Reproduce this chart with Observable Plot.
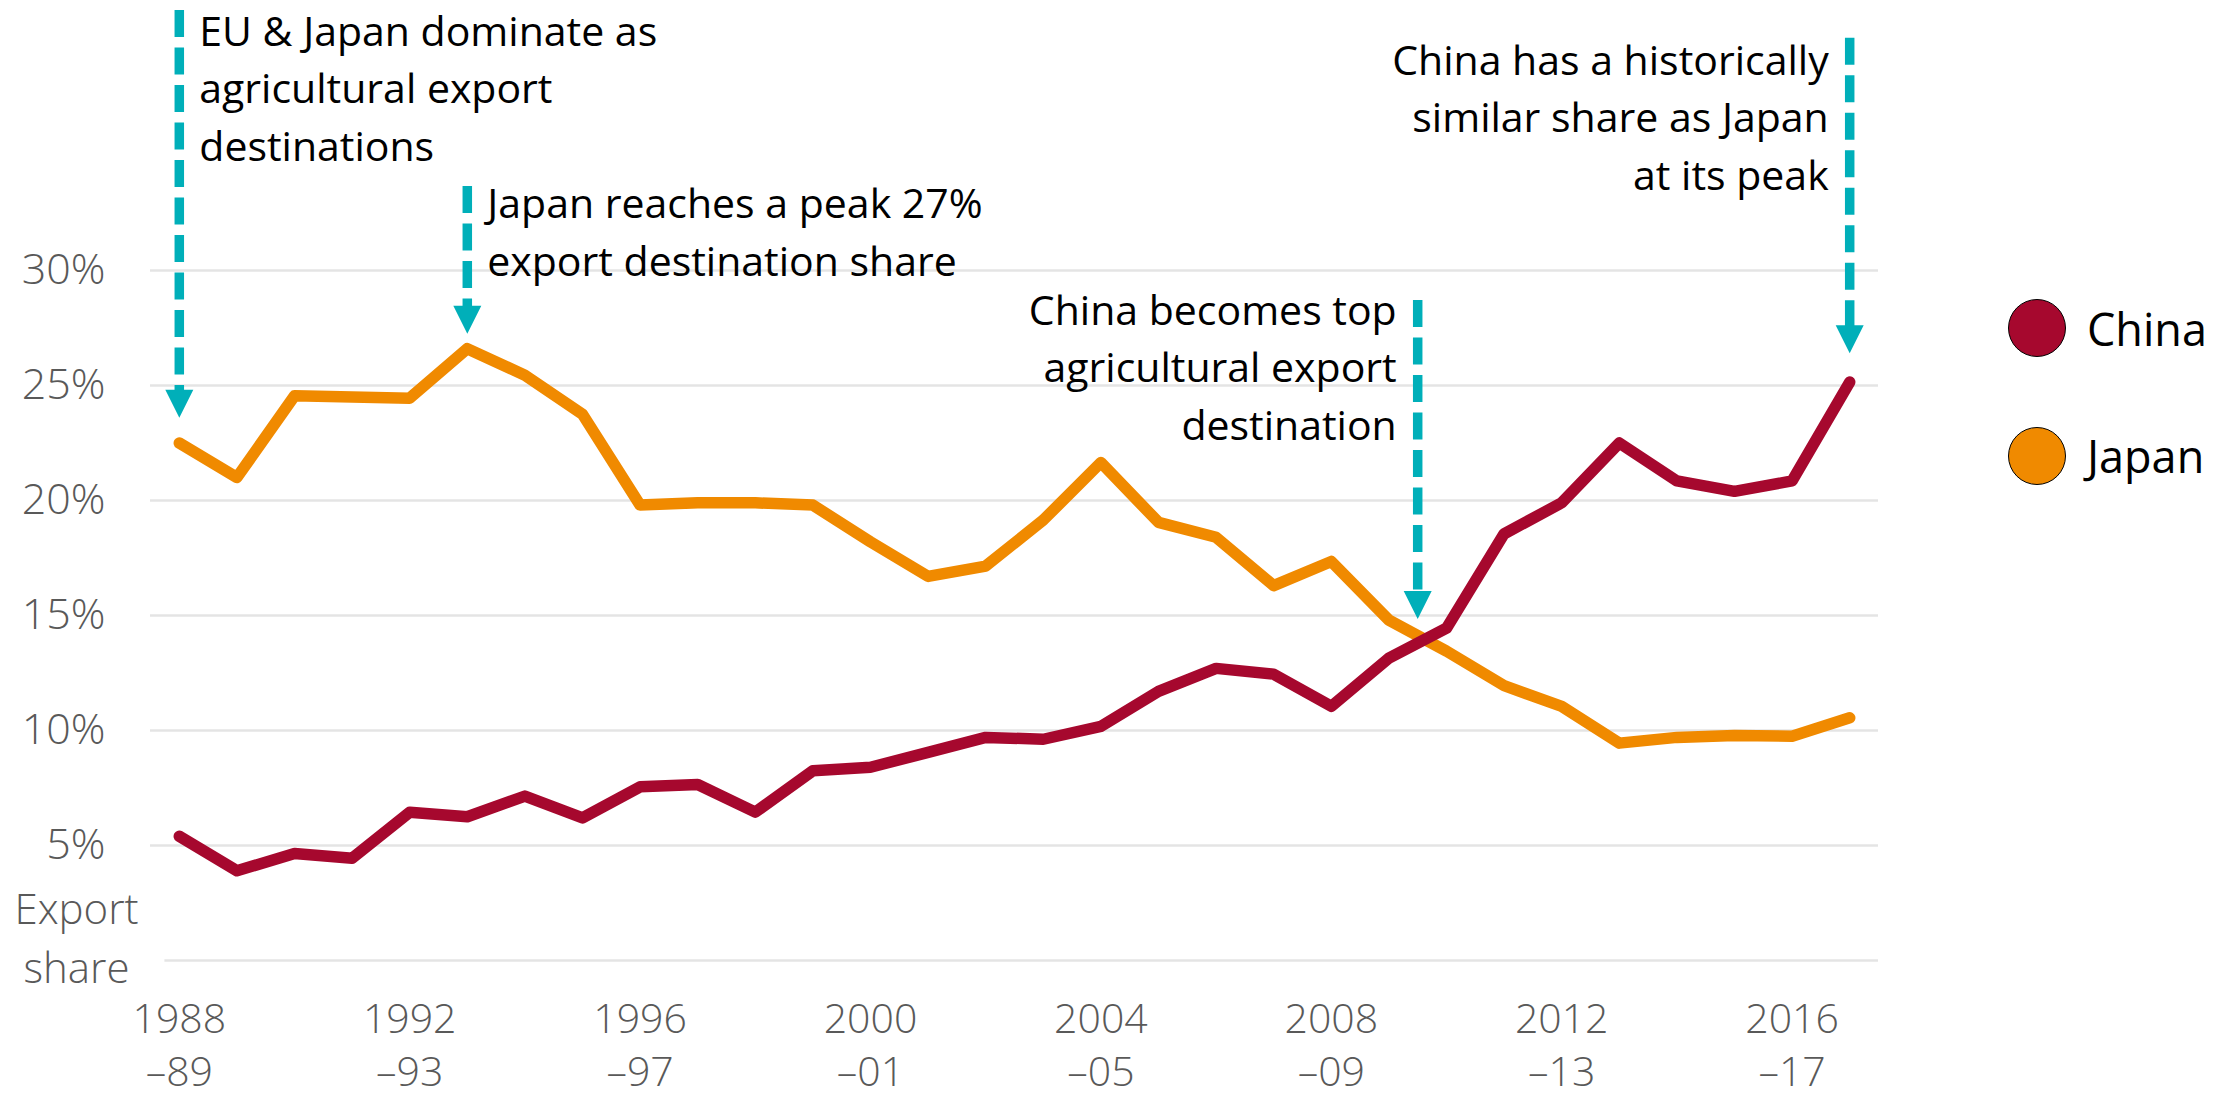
<!DOCTYPE html>
<html>
<head>
<meta charset="utf-8">
<script src="https://cdn.jsdelivr.net/npm/d3@7"></script>
<script src="https://cdn.jsdelivr.net/npm/@observablehq/plot@0.6"></script>
<style>
  html, body { margin: 0; padding: 0; background: #fff; }
  #wrap { position: relative; width: 2231px; height: 1098px; font-family: "Open Sans", sans-serif; }
  #wrap svg { display: block; }
  .legend-row { position: absolute; left: 2008px; height: 58px; display: flex; align-items: center; }
  .legend-row .sw { width: 58px; height: 58px; border-radius: 50%; border: 1.5px solid #000; box-sizing: border-box; }
  .legend-row .lb { margin-left: 21px; font-size: 45px; color: #000; line-height: 1; }
</style>
</head>
<body>
<div id="wrap"></div>
<script>
// ---- data ----
const years = [1988,1989,1990,1991,1992,1993,1994,1995,1996,1997,1998,1999,2000,2001,2002,2003,2004,2005,2006,2007,2008,2009,2010,2011,2012,2013,2014,2015,2016,2017];
const japan = [22.5,21.0,24.55,24.5,24.45,26.6,25.45,23.75,19.8,19.9,19.9,19.8,18.2,16.7,17.15,19.15,21.65,19.05,18.4,16.3,17.35,14.8,13.45,11.95,11.05,9.45,9.7,9.78,9.75,10.55];
const china = [5.4,3.9,4.65,4.45,6.45,6.25,7.15,6.2,7.55,7.65,6.45,8.25,8.4,9.05,9.7,9.62,10.18,11.7,12.7,12.45,11.05,13.15,14.45,18.55,19.9,22.5,20.85,20.4,20.85,25.15];

const seriesNames = ["China", "Japan"];
const seriesColors = ["#a6082e", "#f08a00"];

const yTicks = [5, 10, 15, 20, 25, 30];
const xTicks = [1988, 1992, 1996, 2000, 2004, 2008, 2012, 2016];
const xTickLabels = ["1988\n–89", "1992\n–93", "1996\n–97", "2000\n–01", "2004\n–05", "2008\n–09", "2012\n–13", "2016\n–17"];
const yLabel = "Export\nshare";

// annotations: arrow year, arrow top (%), arrow tip (%), text, text last-baseline (%), side
const notes = [
  {x: 1988,   top: 41.3, tip: 23.6,  textY: 34.78, side: "right", text: "EU & Japan dominate as\nagricultural export\ndestinations"},
  {x: 1993,   top: 33.65, tip: 27.25, textY: 29.78, side: "right", text: "Japan reaches a peak 27%\nexport destination share"},
  {x: 2009.5, top: 28.7, tip: 14.85, textY: 22.65, side: "left",  text: "China becomes top\nagricultural export\ndestination"},
  {x: 2017,   top: 40.1, tip: 26.4,  textY: 33.52, side: "left",  text: "China has a historically\nsimilar share as Japan\nat its peak"}
];

// ---- build ----
const rows = [];
seriesNames.slice().reverse().forEach(name => {
  const vals = name === "China" ? china : japan;
  years.forEach((yr, i) => rows.push({year: yr, share: vals[i], country: name}));
});

const teal = "#00afb9";
const grid = "#e4e4e4";
const axisGray = "#595959";
const headSize = 28;
const triangle = {
  draw(ctx, size) {
    const s = Math.sqrt(size);
    ctx.moveTo(0, 0);
    ctx.lineTo(-s / 2, -s);
    ctx.lineTo(s / 2, -s);
    ctx.closePath();
  }
};
const fmtX = d => xTickLabels[xTicks.indexOf(d)];

const chart = Plot.plot({
  width: 2231,
  height: 1098,
  marginLeft: 150,
  marginRight: 353,
  marginTop: 270,
  marginBottom: 138,
  style: {fontFamily: '"Open Sans", sans-serif', background: "#fff", overflow: "visible"},
  x: {domain: [1987.5, 2017.5]},
  y: {domain: [0, 30]},
  color: {domain: seriesNames, range: seriesColors},
  marks: [
    Plot.ruleY(yTicks, {stroke: grid, strokeWidth: 2.5}),
    Plot.ruleY([0], {x1: 1987.75, x2: 2017.5, stroke: grid, strokeWidth: 2.5}),
    Plot.axisY({ticks: yTicks, tickSize: 0, tickPadding: 45, tickFormat: d => d + "%", fontSize: 43, fontWeight: 300, color: axisGray, label: null}),
    Plot.axisX({ticks: xTicks, tickSize: 0, tickPadding: 35, tickFormat: fmtX, fontSize: 41, fontWeight: 300, lineHeight: 1.29, color: axisGray, label: null}),
    Plot.text([yLabel], {frameAnchor: "bottom-left", dx: -74, dy: 22, lineAnchor: "bottom", textAnchor: "middle", fontSize: 42, fontWeight: 300, lineHeight: 1.4, fill: axisGray}),
    Plot.line(rows, {x: "year", y: "share", z: "country", stroke: "country", strokeWidth: 11.5, strokeLinecap: "round"}),
    Plot.ruleX(notes, {x: "x", y1: "top", y2: "tip", stroke: teal, strokeWidth: 9.5, strokeDasharray: "27 10.5", insetBottom: 14}),
    Plot.dot(notes, {x: "x", y: "tip", symbol: triangle, r: headSize / Math.sqrt(Math.PI), fill: teal, stroke: "none"}),
    Plot.text(notes.filter(d => d.side === "right"), {x: "x", y: "textY", text: "text", textAnchor: "start", lineAnchor: "bottom", dx: 20, fontSize: 41, lineHeight: 1.4, fill: "#000"}),
    Plot.text(notes.filter(d => d.side === "left"), {x: "x", y: "textY", text: "text", textAnchor: "end", lineAnchor: "bottom", dx: -21, fontSize: 41, lineHeight: 1.4, fill: "#000"})
  ]
});

const wrap = document.getElementById("wrap");
wrap.appendChild(chart);

// legend (HTML, to the right of the plot)
const legendTops = [299, 426.5];
seriesNames.forEach((name, i) => {
  const row = document.createElement("div");
  row.className = "legend-row";
  row.style.top = legendTops[i] + "px";
  const sw = document.createElement("div");
  sw.className = "sw";
  sw.style.background = seriesColors[i];
  const lb = document.createElement("div");
  lb.className = "lb";
  lb.textContent = name;
  row.appendChild(sw);
  row.appendChild(lb);
  wrap.appendChild(row);
});
</script>
</body>
</html>
